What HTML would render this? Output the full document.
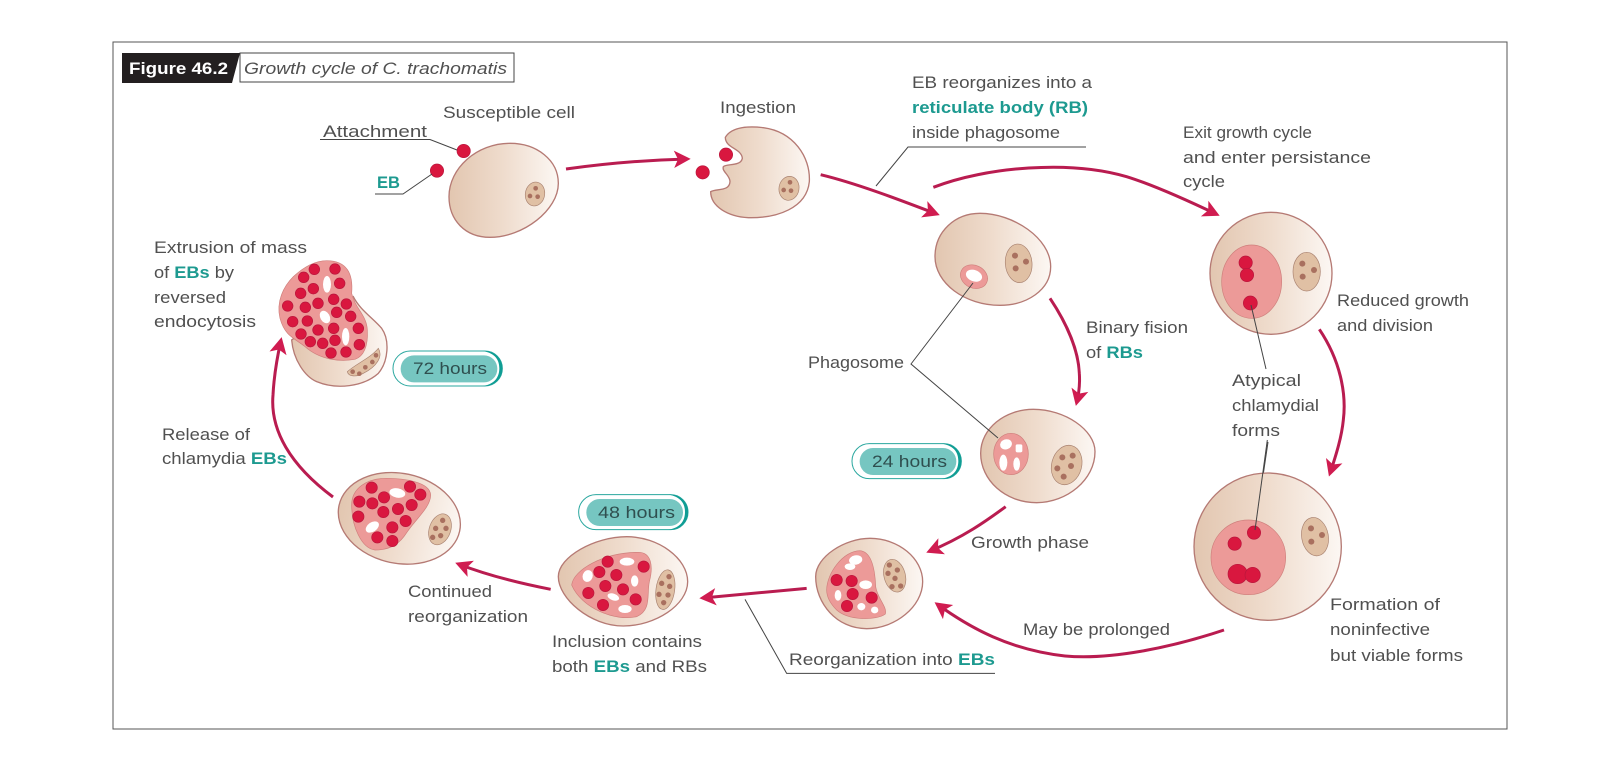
<!DOCTYPE html>
<html><head><meta charset="utf-8"><style>
html,body{margin:0;padding:0;background:#fff}
svg{display:block}
text{font-family:"Liberation Sans",sans-serif;font-size:17px;fill:#505050}
.t{fill:#1d9a90;font-weight:bold}
.cell{fill:url(#g);stroke:#b57a74;stroke-width:4}
.pk{fill:#ec9a98;stroke:#cf7f7c;stroke-width:2}
.nu{fill:#e0c0a4;stroke:#a98270;stroke-width:2}
.nd{fill:#a9705f}
.rd{fill:#d9173f;stroke:#b9163c;stroke-width:2}
.wh{fill:#fff}
.ar{fill:none;stroke:#b91c50;stroke-width:9;stroke-linecap:butt;marker-end:url(#a)}
.ln{fill:none;stroke:#444;stroke-width:1}
.pt{font-size:17px;fill:#2f4f4f}
</style></head><body>
<svg width="1600" height="773" viewBox="0 0 1600 773" xmlns="http://www.w3.org/2000/svg">
<defs>
<linearGradient id="g" x1="0" x2="1" y1="0" y2="0"><stop offset="0" stop-color="#e2c6b0"/><stop offset=".5" stop-color="#efdccd"/><stop offset="1" stop-color="#fcf7f3"/></linearGradient>
<marker id="a" markerUnits="userSpaceOnUse" orient="auto" overflow="visible" markerWidth="1" markerHeight="1" refX="-10" refY="0"><path d="M-50,-26L0,0L-50,26L-38,0Z" fill="#d01c50"/></marker>
<marker id="b" markerUnits="userSpaceOnUse" orient="auto" overflow="visible" markerWidth="1" markerHeight="1" refX="-3" refY="0"><path d="M-16.700,-8.700L0,0L-16.700,8.700L-12.700,0Z" fill="#d01c50"/></marker>
<g id="pill">
<rect x="1" y="1" width="328" height="105" rx="52" fill="#fff" stroke="#2aa79f" stroke-width="3"/>
<path d="M270,1H277A52,52 0 0 1 277,106H270C310,100 320,75 320,53C320,30 310,8 270,1Z" fill="#0f9d94"/>
<rect x="24" y="14" width="290" height="81" rx="40" fill="#76c6c1"/>
</g>
</defs>

<rect x="113" y="42" width="1394" height="687" fill="#fff" stroke="#555" stroke-width="1"/>

<!-- title -->
<rect x="240" y="53" width="274" height="29" fill="#fff" stroke="#444" stroke-width="1"/>
<path d="M122,53H240L232,83H122Z" fill="#231f20"/>
<text x="129" y="74" textLength="99" lengthAdjust="spacingAndGlyphs" style="fill:#fff;font-weight:bold">Figure 46.2</text>
<text x="244" y="74" textLength="263" lengthAdjust="spacingAndGlyphs" font-style="italic">Growth cycle of C. trachomatis</text>

<!-- cell 1 -->
<g transform="translate(100,40) scale(.33333)">
<path class="cell" d="M1047,470C1047,385 1130,310 1230,310C1310,310 1375,360 1375,430C1375,510 1270,592 1170,592C1095,592 1047,540 1047,470Z"/>
<ellipse class="nu" cx="1305" cy="462" rx="29" ry="36" transform="rotate(10 1305 462)"/>
<circle class="nd" cx="1307" cy="445" r="7"/><circle class="nd" cx="1290" cy="468" r="7"/><circle class="nd" cx="1313" cy="470" r="7"/>
<circle class="rd" cx="1091" cy="333" r="20"/><circle class="rd" cx="1011" cy="392" r="20"/>
</g>
<path class="ln" d="M320,139.500H430L457,150"/>
<path class="ln" d="M375,194H403L432,174"/>
<text x="443" y="118" textLength="132" lengthAdjust="spacingAndGlyphs">Susceptible cell</text>
<text x="323" y="137" textLength="104" lengthAdjust="spacingAndGlyphs">Attachment</text>
<text class="t" x="377" y="188" textLength="23" lengthAdjust="spacingAndGlyphs">EB</text>

<!-- cell 2 -->
<g transform="translate(540,60) scale(.33333)">
<path class="cell" d="M556,232C575,200 625,198 670,203C760,215 812,290 808,365C800,445 710,475 625,473C565,470 512,440 512,395C530,385 568,395 570,365C570,345 545,335 550,320C560,310 602,320 607,295C605,265 556,265 556,232Z"/>
<ellipse class="nu" cx="747" cy="385" rx="30" ry="36" transform="rotate(10 747 385)"/>
<circle class="nd" cx="750" cy="367" r="7"/><circle class="nd" cx="731" cy="390" r="7"/><circle class="nd" cx="753" cy="392" r="7"/>
<circle class="rd" cx="558" cy="284" r="20"/><circle class="rd" cx="488" cy="337" r="20"/>
<path class="ar" d="M78,327C200,310 320,300 442,297"/>
<path class="ar" d="M842,344C950,370 1080,420 1190,462"/>
</g>
<text x="720" y="113" textLength="76" lengthAdjust="spacingAndGlyphs">Ingestion</text>
<path class="ln" d="M876,186L908,147H1086"/>
<text x="912" y="88" textLength="180" lengthAdjust="spacingAndGlyphs">EB reorganizes into a</text>
<text class="t" x="912" y="113" textLength="176" lengthAdjust="spacingAndGlyphs">reticulate body (RB)</text>
<text x="912" y="138" textLength="148" lengthAdjust="spacingAndGlyphs">inside phagosome</text>

<!-- top arrow -->
<g transform="translate(920,60) scale(.33333)"><path class="ar" d="M40,382C200,320 450,300 620,350C700,375 800,420 890,463"/></g>
<text x="1183" y="138" textLength="129" lengthAdjust="spacingAndGlyphs">Exit growth cycle</text>
<text x="1183" y="163" textLength="188" lengthAdjust="spacingAndGlyphs">and enter persistance</text>
<text x="1183" y="187" textLength="42" lengthAdjust="spacingAndGlyphs">cycle</text>

<!-- cell 3 + cell 7 -->
<g transform="translate(900,180) scale(.33333)">
<path class="cell" d="M105,230C105,155 165,100 240,100C340,100 452,175 452,260C452,330 380,376 300,376C195,376 105,310 105,230Z"/>
<ellipse class="pk" cx="222" cy="290" rx="42" ry="34" transform="rotate(25 222 290)"/>
<ellipse class="wh" cx="222" cy="287" rx="25" ry="17" transform="rotate(20 222 287)"/>
<ellipse class="nu" cx="356" cy="250" rx="40" ry="58" transform="rotate(-5 356 250)"/>
<circle class="nd" cx="345" cy="227" r="9"/><circle class="nd" cx="378" cy="245" r="9"/><circle class="nd" cx="347" cy="265" r="9"/>
<circle class="cell" cx="1113" cy="280" r="183"/>
<ellipse class="pk" cx="1055" cy="305" rx="90" ry="110"/>
<circle class="rd" cx="1037" cy="248" r="20"/><circle class="rd" cx="1041" cy="285" r="20"/><circle class="rd" cx="1051" cy="369" r="21"/>
<ellipse class="nu" cx="1220" cy="275" rx="41" ry="58"/>
<circle class="nd" cx="1207" cy="251" r="9"/><circle class="nd" cx="1242" cy="270" r="9"/><circle class="nd" cx="1208" cy="290" r="9"/>
</g>
<text x="808" y="368" textLength="96" lengthAdjust="spacingAndGlyphs">Phagosome</text>
<text x="1086" y="333" textLength="102" lengthAdjust="spacingAndGlyphs">Binary fision</text>
<text x="1086" y="358" textLength="57" lengthAdjust="spacingAndGlyphs">of <tspan class="t">RBs</tspan></text>
<g transform="translate(790,290) scale(.33333)"><path class="ar" d="M780,25C830,100 865,180 868,250C870,280 867,310 860,338"/></g>
<path class="ln" d="M1251,305L1266,369M1268,442L1255,530"/>
<text x="1232" y="386" textLength="69" lengthAdjust="spacingAndGlyphs">Atypical</text>
<text x="1232" y="411" textLength="87" lengthAdjust="spacingAndGlyphs">chlamydial</text>
<text x="1232" y="436" textLength="48" lengthAdjust="spacingAndGlyphs">forms</text>
<text x="1337" y="306" textLength="132" lengthAdjust="spacingAndGlyphs">Reduced growth</text>
<text x="1337" y="331" textLength="96" lengthAdjust="spacingAndGlyphs">and division</text>
<g transform="translate(1190,270) scale(.33333)"><path class="ar" d="M388,178C450,270 470,370 460,450C455,500 440,550 420,610"/></g>

<!-- cell 8 -->
<g transform="translate(1150,440) scale(.33333)">
<circle class="cell" cx="353" cy="320" r="221"/>
<circle class="pk" cx="295" cy="352" r="112"/>
<circle class="rd" cx="312" cy="278" r="20"/><circle class="rd" cx="254" cy="311" r="20"/><circle class="rd" cx="263" cy="402" r="29"/><circle class="rd" cx="308" cy="405" r="23"/>
<ellipse class="nu" cx="495" cy="290" rx="40" ry="58" transform="rotate(-10 495 290)"/>
<circle class="nd" cx="483" cy="265" r="9"/><circle class="nd" cx="516" cy="285" r="9"/><circle class="nd" cx="484" cy="305" r="9"/>
<path class="ln" style="stroke-width:3" d="M315,270L352,0"/>
</g>
<text x="1330" y="610" textLength="110" lengthAdjust="spacingAndGlyphs">Formation of</text>
<text x="1330" y="635" textLength="100" lengthAdjust="spacingAndGlyphs">noninfective</text>
<text x="1330" y="661" textLength="133" lengthAdjust="spacingAndGlyphs">but viable forms</text>
<text x="1023" y="635" textLength="147" lengthAdjust="spacingAndGlyphs">May be prolonged</text>
<path d="M1224,630C1170,648 1110,660 1065,656C1010,650 970,628 937,604" fill="none" stroke="#b91c50" stroke-width="3" marker-end="url(#b)"/>

<!-- cell 4 + cell 9 -->
<g transform="translate(780,390) scale(.33333)">
<path class="cell" d="M602,190C602,115 675,58 760,58C855,58 945,120 945,185C945,270 860,338 770,338C675,338 602,270 602,190Z"/>
<ellipse class="pk" cx="693" cy="192" rx="52" ry="62"/>
<ellipse class="wh" cx="678" cy="163" rx="18" ry="15" transform="rotate(-20 678 163)"/><rect class="wh" x="707" y="163" width="20" height="24" rx="5"/><ellipse class="wh" cx="670" cy="218" rx="12" ry="24"/><ellipse class="wh" cx="710" cy="222" rx="10" ry="20"/>
<ellipse class="nu" cx="860" cy="225" rx="45" ry="60" transform="rotate(15 860 225)"/>
<circle class="nd" cx="847" cy="202" r="9"/><circle class="nd" cx="878" cy="197" r="9"/><circle class="nd" cx="832" cy="235" r="9"/><circle class="nd" cx="873" cy="228" r="9"/><circle class="nd" cx="851" cy="260" r="9"/>
<use href="#pill" x="215" y="160"/>
<path class="ar" d="M677,350C620,392 550,442 448,484"/>
<path class="cell" d="M107,560C107,500 195,445 270,445C355,445 428,505 428,575C428,650 345,716 260,716C170,716 107,640 107,560Z"/>
<path class="pk" d="M140,600C140,550 190,482 240,482C275,485 285,540 287,590C292,625 322,650 316,672C290,692 205,692 170,660C150,640 140,622 140,600Z"/>
<circle class="rd" cx="170" cy="570" r="17"/><circle class="rd" cx="215" cy="573" r="17"/><circle class="rd" cx="218" cy="612" r="17"/><circle class="rd" cx="275" cy="623" r="17"/><circle class="rd" cx="201" cy="648" r="17"/>
<ellipse class="wh" cx="227" cy="510" rx="20" ry="14" transform="rotate(-10 227 510)"/><ellipse class="wh" cx="210" cy="530" rx="16" ry="10"/><ellipse class="wh" cx="257" cy="584" rx="19" ry="13"/><ellipse class="wh" cx="174" cy="616" rx="10" ry="16"/><ellipse class="wh" cx="244" cy="650" rx="12" ry="11"/><ellipse class="wh" cx="284" cy="660" rx="11" ry="10"/>
<ellipse class="nu" cx="344" cy="557" rx="32" ry="50" transform="rotate(-15 344 557)"/>
<circle class="nd" cx="328" cy="525" r="8"/><circle class="nd" cx="352" cy="540" r="8"/><circle class="nd" cx="324" cy="550" r="8"/><circle class="nd" cx="345" cy="565" r="8"/><circle class="nd" cx="336" cy="590" r="8"/><circle class="nd" cx="362" cy="588" r="8"/>
</g>
<path class="ln" d="M973,283L911,364L998,438"/>
<text class="pt" x="872" y="467" textLength="75" lengthAdjust="spacingAndGlyphs">24 hours</text>
<text x="971" y="548" textLength="118" lengthAdjust="spacingAndGlyphs">Growth phase</text>

<!-- cell 5 -->
<g transform="translate(540,520) scale(.33333)">
<path class="cell" d="M55,170C55,110 165,50 260,50C355,50 443,115 443,185C443,255 345,318 250,318C150,318 55,235 55,170Z"/>
<path class="pk" d="M95,195C100,150 190,97 295,97C335,97 340,140 328,185C320,225 335,270 290,290C225,305 125,265 95,195Z"/>
<circle class="rd" cx="203" cy="125" r="17"/><circle class="rd" cx="311" cy="140" r="17"/><circle class="rd" cx="178" cy="156" r="17"/><circle class="rd" cx="229" cy="165" r="17"/><circle class="rd" cx="196" cy="198" r="17"/><circle class="rd" cx="249" cy="208" r="17"/><circle class="rd" cx="145" cy="219" r="17"/><circle class="rd" cx="287" cy="238" r="17"/><circle class="rd" cx="189" cy="255" r="17"/>
<ellipse class="wh" cx="261" cy="125" rx="22" ry="12"/><ellipse class="wh" cx="143" cy="168" rx="15" ry="18" transform="rotate(20 143 168)"/><ellipse class="wh" cx="284" cy="183" rx="11" ry="17"/><ellipse class="wh" cx="220" cy="231" rx="18" ry="10" transform="rotate(20 220 231)"/><ellipse class="wh" cx="255" cy="267" rx="20" ry="12"/>
<ellipse class="nu" cx="376" cy="209" rx="28" ry="60" transform="rotate(8 376 209)"/>
<circle class="nd" cx="387" cy="170" r="8"/><circle class="nd" cx="365" cy="190" r="8"/><circle class="nd" cx="389" cy="199" r="8"/><circle class="nd" cx="357" cy="223" r="8"/><circle class="nd" cx="384" cy="225" r="8"/><circle class="nd" cx="371" cy="248" r="8"/>
<path class="ar" d="M800,205L488,234"/>
<path class="ln" style="stroke-width:3" d="M615,238L740,460H1365"/>
</g>
<text x="552" y="647" textLength="150" lengthAdjust="spacingAndGlyphs">Inclusion contains</text>
<text x="552" y="672" textLength="155" lengthAdjust="spacingAndGlyphs">both <tspan class="t">EBs</tspan> and RBs</text>
<text x="789" y="665" textLength="206" lengthAdjust="spacingAndGlyphs">Reorganization into <tspan class="t">EBs</tspan></text>

<!-- cell 6 -->
<g transform="translate(320,450) scale(.33333)">
<ellipse class="cell" cx="238" cy="205" rx="185" ry="135" transform="rotate(12 238 205)"/>
<path class="pk" d="M95,165C95,115 140,85 200,85C250,85 330,95 332,135C332,170 290,205 262,245C240,280 215,300 165,300C125,295 95,230 95,165Z"/>
<circle class="rd" cx="155" cy="113" r="17"/><circle class="rd" cx="270" cy="110" r="17"/><circle class="rd" cx="301" cy="134" r="17"/><circle class="rd" cx="118" cy="155" r="17"/><circle class="rd" cx="157" cy="160" r="17"/><circle class="rd" cx="192" cy="142" r="17"/><circle class="rd" cx="275" cy="165" r="17"/><circle class="rd" cx="234" cy="177" r="17"/><circle class="rd" cx="190" cy="186" r="17"/><circle class="rd" cx="115" cy="200" r="17"/><circle class="rd" cx="257" cy="213" r="17"/><circle class="rd" cx="217" cy="232" r="17"/><circle class="rd" cx="172" cy="262" r="17"/><circle class="rd" cx="217" cy="273" r="17"/>
<ellipse class="wh" cx="232" cy="129" rx="24" ry="14" transform="rotate(10 232 129)"/><ellipse class="wh" cx="157" cy="231" rx="22" ry="14" transform="rotate(-35 157 231)"/>
<ellipse class="nu" cx="360" cy="238" rx="32" ry="48" transform="rotate(20 360 238)"/>
<circle class="nd" cx="368" cy="211" r="8"/><circle class="nd" cx="378" cy="235" r="8"/><circle class="nd" cx="347" cy="235" r="8"/><circle class="nd" cx="338" cy="262" r="8"/><circle class="nd" cx="362" cy="257" r="8"/>
<use href="#pill" x="775" y="133"/>
<path class="ar" d="M692,418C600,400 500,375 415,342"/>
</g>
<text class="pt" x="598" y="518" textLength="77" lengthAdjust="spacingAndGlyphs">48 hours</text>
<text x="408" y="597" textLength="84" lengthAdjust="spacingAndGlyphs">Continued</text>
<text x="408" y="622" textLength="120" lengthAdjust="spacingAndGlyphs">reorganization</text>

<!-- cell 10 extrusion -->
<g transform="translate(250,230) scale(.33333)">
<path class="cell" d="M125,330C130,390 165,440 200,455C260,480 340,470 385,430C415,395 420,330 395,295C370,265 330,240 310,200Z"/>
<path class="pk" d="M230,92C290,92 310,130 305,190C315,235 350,255 352,300C355,350 340,380 315,388C270,396 210,390 165,350C135,325 105,320 90,265C78,215 100,170 130,140C160,112 195,92 230,92Z"/>
<circle class="rd" cx="193" cy="118" r="16"/><circle class="rd" cx="255" cy="117" r="16"/><circle class="rd" cx="161" cy="142" r="16"/><circle class="rd" cx="269" cy="160" r="16"/><circle class="rd" cx="190" cy="176" r="16"/><circle class="rd" cx="152" cy="190" r="16"/><circle class="rd" cx="251" cy="208" r="16"/><circle class="rd" cx="289" cy="222" r="16"/><circle class="rd" cx="204" cy="220" r="16"/><circle class="rd" cx="113" cy="228" r="16"/><circle class="rd" cx="166" cy="232" r="16"/><circle class="rd" cx="260" cy="247" r="16"/><circle class="rd" cx="302" cy="259" r="16"/><circle class="rd" cx="128" cy="275" r="16"/><circle class="rd" cx="172" cy="273" r="16"/><circle class="rd" cx="204" cy="300" r="16"/><circle class="rd" cx="251" cy="295" r="16"/><circle class="rd" cx="325" cy="295" r="16"/><circle class="rd" cx="153" cy="312" r="16"/><circle class="rd" cx="181" cy="335" r="16"/><circle class="rd" cx="218" cy="340" r="16"/><circle class="rd" cx="255" cy="331" r="16"/><circle class="rd" cx="328" cy="344" r="16"/><circle class="rd" cx="243" cy="369" r="16"/><circle class="rd" cx="288" cy="366" r="16"/>
<ellipse class="wh" cx="231" cy="163" rx="12" ry="25"/><ellipse class="wh" cx="225" cy="261" rx="14" ry="20" transform="rotate(-30 225 261)"/><ellipse class="wh" cx="287" cy="320" rx="11" ry="26"/>
<path class="nu" d="M292,425C320,400 360,385 385,355C400,380 380,410 340,430C320,442 295,440 292,425Z"/>
<circle class="nd" cx="378" cy="376" r="7"/><circle class="nd" cx="367" cy="396" r="7"/><circle class="nd" cx="346" cy="412" r="7"/><circle class="nd" cx="328" cy="431" r="7"/><circle class="nd" cx="308" cy="425" r="7"/>
<use href="#pill" x="428" y="362"/>
</g>
<text class="pt" x="413" y="374" textLength="74" lengthAdjust="spacingAndGlyphs">72 hours</text>
<path d="M333,497C290,465 270,430 273,395C274,375 277,358 281,340" fill="none" stroke="#b91c50" stroke-width="3" marker-end="url(#b)"/>
<text x="154" y="253" textLength="153" lengthAdjust="spacingAndGlyphs">Extrusion of mass</text>
<text x="154" y="278" textLength="80" lengthAdjust="spacingAndGlyphs">of <tspan class="t">EBs</tspan> by</text>
<text x="154" y="303" textLength="72" lengthAdjust="spacingAndGlyphs">reversed</text>
<text x="154" y="327" textLength="102" lengthAdjust="spacingAndGlyphs">endocytosis</text>
<text x="162" y="440" textLength="88" lengthAdjust="spacingAndGlyphs">Release of</text>
<text x="162" y="464" textLength="125" lengthAdjust="spacingAndGlyphs">chlamydia <tspan class="t">EBs</tspan></text>
</svg>
</body></html>
